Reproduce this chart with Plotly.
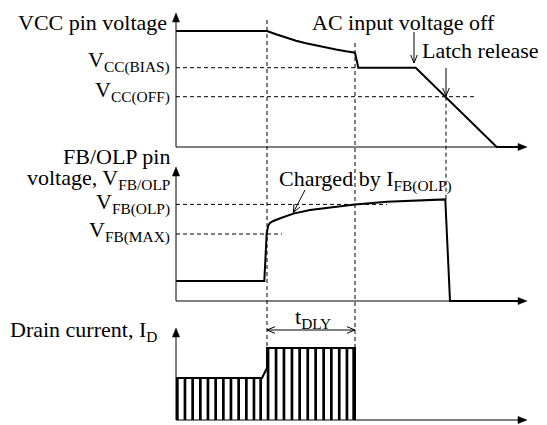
import math
import plotly.graph_objects as go

# The page body has an 8px default margin, so the figure is laid out to sit
# inside the remaining 539x417 area of the 547x425 window.
PAGE_OFF = 8
W, H = 547 - PAGE_OFF, 425 - PAGE_OFF
FONT = "Liberation Serif, Times New Roman, Times, serif"
INK = "black"
FS = 22

# ---------------- time markers (arbitrary time units, 0 = vertical axes) ----------------
T_AXIS_END = 351
T_OLP_START = 91
T_DLY_END = 179
T_AC_OFF = 238
T_LATCH = 270

# ---------------- Panel 1: VCC pin voltage ----------------
vcc_t = [0, 91, 100, 110, 120, 130, 140, 150, 160, 170, 179, 182.3, 239.7, 320.7, 345]
vcc_v = [11.6, 11.6, 11.27, 10.93, 10.62, 10.37, 10.15, 9.95, 9.75, 9.57, 9.43, 7.93, 7.93, 0.0, 0.0]
VCC_BIAS = 7.93
VCC_OFF = 5.03
vcc_bias_dash_t = [0, 182.3]
vcc_off_dash_t = [0, 301]

# ---------------- Panel 2: FB/OLP pin voltage ----------------
fb_t = [0, 88.3, 90.7, 91.2, 92.3, 94.0, 97.3, 105, 117.3, 134, 150.7, 179, 211, 240, 269.3, 274, 345]
fb_v = [1.0, 1.0, 3.38, 3.6, 3.78, 3.9, 4.0, 4.15, 4.37, 4.55, 4.65, 4.83, 4.96, 5.03, 5.08, 0.0, 0.0]
FB_OLP = 4.83
FB_MAX = 3.35
fb_olp_dash_t = [0, 211]
fb_max_dash_t = [0, 106]

# ---------------- Panel 3: Drain current ----------------
drain_env_t = [0, 86, 91, 91, 179, 179]
drain_env_v = [0.42, 0.42, 0.52, 0.72, 0.72, 0.0]
ID_LOW = 0.42
ID_HIGH = 0.72
pulse_start_low = [0, 7.6, 15.3, 23.0, 30.6, 38.3, 46.0, 53.6, 61.3, 69.0, 76.6, 83.3]
pulse_start_high = [90.7, 98.7, 106.6, 114.6, 122.3, 130.4, 138.3, 146.3, 154.0, 161.9, 169.6, 176.3]
PULSE_W = 2.7
T_DLY_LEVEL = 0.90

# axis arrow tips (value units of each panel)
axis_tips = {"y": 13.4, "y2": 6.7, "y3": 0.92}

# ---------------- axes layout ----------------
X_RANGE = [-176 + PAGE_OFF, 371]
AX = {
    "y":  {"domain": [1 - 152 / H, 1.0], "range": [-1.3, 13.9]},
    "y2": {"domain": [1 - 302 / H, 1 - 152 / H], "range": [-0.45, 7.05]},
    "y3": {"domain": [0.0, 1 - 302 / H], "range": [-0.05, 1.10]},
}


def px_per_unit(yref):
    a = AX[yref]
    return (a["domain"][1] - a["domain"][0]) * H / (a["range"][1] - a["range"][0])


X_PPU = W / (X_RANGE[1] - X_RANGE[0])


def to_paper(yref, v):
    a = AX[yref]
    r0, r1 = a["range"]
    d0, d1 = a["domain"]
    return d0 + (v - r0) / (r1 - r0) * (d1 - d0)


def head(yref, tip_t, tip_v, tail_t, tail_v, length=8.0, half=3.3, closed=False):
    sy = px_per_unit(yref)
    tx, ty = tip_t * X_PPU, tip_v * sy
    bx, by = tail_t * X_PPU, tail_v * sy
    dx, dy = tx - bx, ty - by
    n = math.hypot(dx, dy)
    ux, uy = dx / n, dy / n
    cx, cy = tx - ux * length, ty - uy * length
    w1 = (cx - uy * half, cy + ux * half)
    w2 = (cx + uy * half, cy - ux * half)
    pts = [w1, (tx, ty), w2] + ([w1] if closed else [])
    return [p[0] / X_PPU for p in pts], [p[1] / sy for p in pts]


fig = go.Figure()


def line(x, y, yref, width=2.0, dash=None):
    fig.add_trace(go.Scatter(
        x=x, y=y, xaxis="x", yaxis=yref, mode="lines",
        line=dict(color=INK, width=width, dash=dash),
        hoverinfo="skip", showlegend=False))


def filled_head(yref, tip_t, tip_v, tail_t, tail_v):
    hx, hy = head(yref, tip_t, tip_v, tail_t, tail_v, length=9.0, half=3.6, closed=True)
    fig.add_trace(go.Scatter(
        x=hx, y=hy, xaxis="x", yaxis=yref, mode="lines", fill="toself",
        fillcolor=INK, line=dict(color=INK, width=0.5),
        hoverinfo="skip", showlegend=False))


DASH = "4px,3px"

# drain current pulses
low_centers = [s + PULSE_W / 2 for s in pulse_start_low]
high_centers = [s + PULSE_W / 2 for s in pulse_start_high]
fig.add_trace(go.Bar(
    x=low_centers + high_centers,
    y=[ID_LOW] * len(low_centers) + [ID_HIGH] * len(high_centers),
    width=PULSE_W, xaxis="x", yaxis="y3",
    marker=dict(color=INK, line=dict(width=0)),
    hoverinfo="skip", showlegend=False))

# axes with filled arrowheads
for yref, tip in axis_tips.items():
    line([0, 0], [0, tip - 0.5 / px_per_unit(yref) * 8], yref, 1.0)
    filled_head(yref, 0, tip, 0, 0)
    line([0, T_AXIS_END - 6], [0, 0], yref, 1.0)
    filled_head(yref, T_AXIS_END, 0, 0, 0)

# dashed reference levels
line(vcc_bias_dash_t, [VCC_BIAS, VCC_BIAS], "y", 1.0, DASH)
line(vcc_off_dash_t, [VCC_OFF, VCC_OFF], "y", 1.0, DASH)
line(fb_olp_dash_t, [FB_OLP, FB_OLP], "y2", 1.0, DASH)
line(fb_max_dash_t, [FB_MAX, FB_MAX], "y2", 1.0, DASH)

# waveforms
line(vcc_t, vcc_v, "y", 2.0)
line(fb_t, fb_v, "y2", 2.0)
line(drain_env_t, drain_env_v, "y3", 2.0)

# open-head arrows
ac_arrow = ([T_AC_OFF, T_AC_OFF], [11.5, 8.4])
latch_arrow = ([T_LATCH, T_LATCH], [7.9, 5.1])
charged_arrow = ([129, 117.3], [5.55, 4.42])
for (xs, ys), yref in [(ac_arrow, "y"), (latch_arrow, "y"), (charged_arrow, "y2")]:
    line(xs, ys, yref, 1.0)
    hx, hy = head(yref, xs[1], ys[1], xs[0], ys[0])
    line(hx, hy, yref, 1.0)

# t_DLY double arrow
line([T_OLP_START, T_DLY_END], [T_DLY_LEVEL, T_DLY_LEVEL], "y3", 1.0)
hx, hy = head("y3", T_OLP_START, T_DLY_LEVEL, T_DLY_END, T_DLY_LEVEL)
line(hx, hy, "y3", 1.0)
hx, hy = head("y3", T_DLY_END, T_DLY_LEVEL, T_OLP_START, T_DLY_LEVEL)
line(hx, hy, "y3", 1.0)

# vertical dashed event lines spanning panels
shapes = []
for t, (ra, va), (rb, vb) in [
    (T_OLP_START, ("y", 12.7), ("y3", ID_HIGH)),
    (T_DLY_END, ("y", 10.4), ("y3", ID_HIGH)),
    (T_LATCH, ("y", VCC_OFF), ("y2", 5.08)),
]:
    shapes.append(dict(type="line", xref="x", yref="paper", x0=t, x1=t,
                       y0=to_paper(ra, va), y1=to_paper(rb, vb),
                       line=dict(color=INK, width=1, dash=DASH)))

annotations = []


def label(text, xpx, ypx, xanchor):
    # xpx, ypx: position in the 547x425 window
    annotations.append(dict(
        xref="paper", yref="paper", x=(xpx - PAGE_OFF) / W, y=1 - (ypx - PAGE_OFF) / H,
        xanchor=xanchor, yanchor="middle", text=text, showarrow=False,
        font=dict(family=FONT, size=FS, color=INK)))


label("VCC pin voltage", 169, 22, "right")
label("V<sub>CC(BIAS)</sub>", 172, 62, "right")
label("V<sub>CC(OFF)</sub>", 172, 91, "right")
label("AC input voltage off", 403.5, 22, "center")
label("Latch release", 420, 50, "left")
label("FB/OLP pin", 172, 156, "right")
label("voltage, V<sub>FB/OLP</sub>", 172, 179, "right")
label("V<sub>FB(OLP)</sub>", 172, 203, "right")
label("V<sub>FB(MAX)</sub>", 172, 231, "right")
label("Charged by I<sub>FB(OLP)</sub>", 277, 180, "left")
label("Drain current, I<sub>D</sub>", 159, 331, "right")
label("t<sub>DLY</sub>", 313, 318, "center")

axis_common = dict(visible=False, showgrid=False, zeroline=False, fixedrange=True)
fig.update_layout(
    width=W, height=H,
    margin=dict(l=0, r=0, t=0, b=0),
    paper_bgcolor="white", plot_bgcolor="white",
    showlegend=False,
    xaxis=dict(range=X_RANGE, domain=[0, 1], anchor="y", **axis_common),
    yaxis=dict(range=AX["y"]["range"], domain=AX["y"]["domain"], anchor="x", **axis_common),
    yaxis2=dict(range=AX["y2"]["range"], domain=AX["y2"]["domain"], anchor="x", **axis_common),
    yaxis3=dict(range=AX["y3"]["range"], domain=AX["y3"]["domain"], anchor="x", **axis_common),
    shapes=shapes,
    annotations=annotations,
    font=dict(family=FONT, color=INK),
)

fig.write_html("out.html")
